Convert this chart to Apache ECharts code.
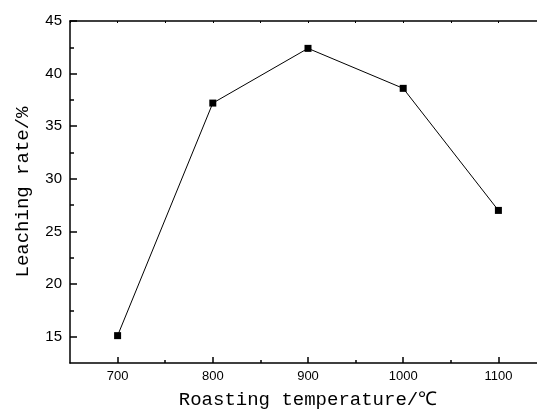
<!DOCTYPE html>
<html>
<head>
<meta charset="utf-8">
<script src="https://cdn.jsdelivr.net/npm/echarts@6/dist/echarts.min.js"></script>
<style>
  html, body { margin: 0; padding: 0; background: #fff; }
  #chart { width: 537px; height: 409px; }
</style>
</head>
<body>
<div id="chart"></div>
<script>
// 数据
var temperatures = [700, 800, 900, 1000, 1100];
var leachingRates = [15.1, 37.2, 42.4, 38.6, 27.0];
var xMajorTicks = [700, 800, 900, 1000, 1100];
var xMinorTicks = [750, 850, 950, 1050];
var yMajorTicks = [15, 20, 25, 30, 35, 40, 45];
var yMinorTicks = [17.5, 22.5, 27.5, 32.5, 37.5, 42.5];

var black = '#000';
var lineStyle = { color: black, width: 1.5 };

var chart = echarts.init(document.getElementById('chart'));

var points = temperatures.map(function (t, i) {
    return [t, leachingRates[i]];
});

// 刻度标签不加千分位
var plain = function (v) {
    return String(v);
};

chart.setOption({
    animation: false,
    backgroundColor: '#fff',
    grid: { left: 70, top: 21, width: 476, height: 342, outerBoundsMode: 'none', containLabel: false },
    xAxis: [
        {
            type: 'value', position: 'bottom', min: 650, max: 1150, interval: 50,
            axisLine: { lineStyle: lineStyle },
            axisTick: { inside: true, length: 6, customValues: xMajorTicks, lineStyle: lineStyle },
            axisLabel: {
                customValues: xMajorTicks, margin: 7, color: black, formatter: plain,
                fontFamily: 'Liberation Sans', fontSize: 13
            },
            splitLine: { show: false },
            name: 'Roasting temperature/℃',
            nameLocation: 'middle', nameGap: 27,
            nameTextStyle: { fontFamily: 'Liberation Mono', fontSize: 19, color: black }
        },
        {
            type: 'value', position: 'bottom', min: 650, max: 1150, interval: 50,
            axisLine: { show: false },
            axisTick: { inside: true, length: 3, customValues: xMinorTicks, lineStyle: lineStyle },
            axisLabel: { show: false },
            splitLine: { show: false }
        },
        {
            type: 'value', position: 'top', min: 650, max: 1150, interval: 50,
            axisLine: { lineStyle: lineStyle },
            axisTick: { inside: true, length: 2, lineStyle: { color: black, width: 1 } },
            axisLabel: { show: false },
            splitLine: { show: false }
        }
    ],
    yAxis: [
        {
            type: 'value', position: 'left', min: 12.5, max: 45, interval: 2.5,
            axisLine: { lineStyle: lineStyle },
            axisTick: { inside: true, length: 7, customValues: yMajorTicks, lineStyle: lineStyle },
            axisLabel: {
                customValues: yMajorTicks, margin: 8, color: black, formatter: plain,
                fontFamily: 'Liberation Sans', fontSize: 15
            },
            splitLine: { show: false },
            name: 'Leaching rate/%',
            nameLocation: 'middle', nameGap: 38,
            nameTextStyle: { fontFamily: 'Liberation Mono', fontSize: 19, color: black }
        },
        {
            type: 'value', position: 'left', min: 12.5, max: 45, interval: 2.5,
            axisLine: { show: false },
            axisTick: { inside: true, length: 4, customValues: yMinorTicks, lineStyle: lineStyle },
            axisLabel: { show: false },
            splitLine: { show: false }
        }
    ],
    series: [{
        type: 'line',
        xAxisIndex: 0,
        yAxisIndex: 0,
        data: points,
        symbol: 'rect',
        symbolSize: 7,
        lineStyle: { color: black, width: 1 },
        itemStyle: { color: black }
    }]
});
</script>
</body>
</html>
